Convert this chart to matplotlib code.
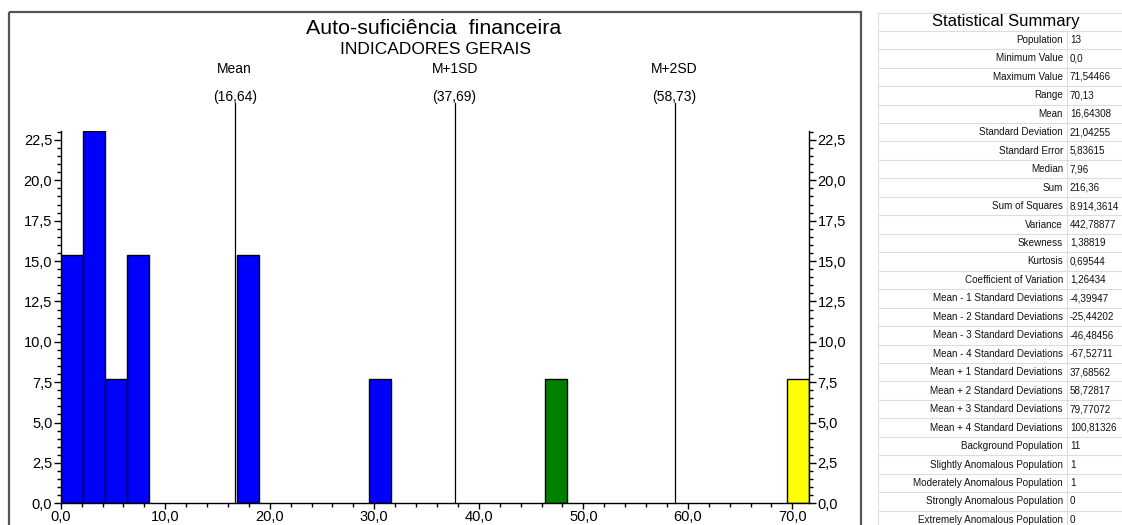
import matplotlib
matplotlib.use("Agg")
import matplotlib.pyplot as plt
from matplotlib.ticker import MultipleLocator, FuncFormatter
from matplotlib.patches import Rectangle

plt.rcParams['font.family'] = ['Liberation Sans', 'DejaVu Sans']

# histogram bins (percent of population), 34 bins over 0..71.54
bin_width = 71.54466 / 34
bin_left = [0.0, 2.104, 4.208, 6.313, 16.835, 29.457, 46.292, 69.440]
bin_pct = [15.38, 23.08, 7.69, 15.38, 15.38, 7.69, 7.69, 7.69]
bin_color = ['#0000ff', '#0000ff', '#0000ff', '#0000ff', '#0000ff', '#0000ff', '#008000', '#ffff00']

ref_names = ['Mean', 'M+1SD', 'M+2SD']
ref_values = [16.64308, 37.68562, 58.72817]

summary_labels = ['Population', 'Minimum Value', 'Maximum Value', 'Range', 'Mean',
                  'Standard Deviation', 'Standard Error', 'Median', 'Sum', 'Sum of Squares',
                  'Variance', 'Skewness', 'Kurtosis', 'Coefficient of Variation',
                  'Mean - 1 Standard Deviations', 'Mean - 2 Standard Deviations',
                  'Mean - 3 Standard Deviations', 'Mean - 4 Standard Deviations',
                  'Mean + 1 Standard Deviations', 'Mean + 2 Standard Deviations',
                  'Mean + 3 Standard Deviations', 'Mean + 4 Standard Deviations',
                  'Background Population', 'Slightly Anomalous Population',
                  'Moderately Anomalous Population', 'Strongly Anomalous Population',
                  'Extremely Anomalous Population']
summary_values = ['13', '0,0', '71,54466', '70,13', '16,64308', '21,04255', '5,83615', '7,96',
                  '216,36', '8.914,3614', '442,78877', '1,38819', '0,69544', '1,26434',
                  '-4,39947', '-25,44202', '-46,48456', '-67,52711', '37,68562', '58,72817',
                  '79,77072', '100,81326', '11', '1', '1', '0', '0']

W, H = 1122, 525
fig = plt.figure(figsize=(W / 100, H / 100), dpi=100)

# background layer in pixel coordinates (frame + summary table)
bg = fig.add_axes([0, 0, 1, 1])
bg.set_xlim(0, W)
bg.set_ylim(H, 0)
bg.axis('off')
bg.add_patch(Rectangle((9, 12), 852, 530, fill=False, edgecolor='#555555', linewidth=1.6))

row_top = 30.7
row_h = 18.46
tab_l, tab_div, tab_r = 878, 1067, 1140
grid_c = '#dddddd'
bg.plot([tab_l, tab_r], [12.7, 12.7], color=grid_c, lw=0.8)
bg.plot([tab_l, tab_l], [12.7, H], color=grid_c, lw=0.8)
bg.plot([tab_div, tab_div], [row_top, H], color=grid_c, lw=0.8)
bg.text(1006, 21.5, 'Statistical Summary', fontsize=12, ha='center', va='center')
for i, (lab, val) in enumerate(zip(summary_labels, summary_values)):
    y0 = row_top + i * row_h
    bg.plot([tab_l, tab_r], [y0, y0], color=grid_c, lw=0.8)
    bg.text(tab_div - 4, y0 + row_h / 2, lab, fontsize=7.1, ha='right', va='center', color='#111111')
    bg.text(tab_div + 3, y0 + row_h / 2, val, fontsize=7.1, ha='left', va='center', color='#111111')

# histogram axes
ax = fig.add_axes([60.7 / W, 21.7 / H, 748.6 / W, 372.7 / H])
ax.patch.set_alpha(0)
ax.bar(bin_left, bin_pct, width=bin_width, align='edge', color=bin_color,
       edgecolor='black', linewidth=1.0, zorder=2)
ax.set_xlim(0, 71.62)
ax.set_ylim(0, 23.08)

# reference lines with labels above the plot
for name, v in zip(ref_names, ref_values):
    ax.plot([v, v], [0, 24.8], color='black', lw=0.9, clip_on=False, zorder=3)
    ax.text(v, 26.9, name, fontsize=10, ha='center', va='center')
    ax.text(v, 25.15, '(' + f'{v:.2f}'.replace('.', ',') + ')', fontsize=10,
            ha='center', va='center')

fig.text(434 / W, 1 - 29 / H, 'Auto-suficiência  financeira', fontsize=15.4, ha='center', va='center')
fig.text(435 / W, 1 - 50 / H, 'INDICADORES GERAIS', fontsize=12.5, ha='center', va='center')

fmt = FuncFormatter(lambda v, p: f'{v:.1f}'.replace('.', ','))
ax.xaxis.set_major_locator(MultipleLocator(10))
ax.xaxis.set_minor_locator(MultipleLocator(2))
ax.yaxis.set_major_locator(MultipleLocator(2.5))
ax.yaxis.set_minor_locator(MultipleLocator(0.5))
ax.xaxis.set_major_formatter(fmt)
ax.yaxis.set_major_formatter(fmt)
ax.spines['top'].set_visible(False)
for s in ['left', 'right', 'bottom']:
    ax.spines[s].set_linewidth(1.0)
ax.tick_params(axis='y', which='both', left=True, right=True, labelleft=True, labelright=True,
               direction='out', labelsize=10.5, pad=1)
ax.tick_params(axis='y', which='major', length=5, width=1)
ax.tick_params(axis='y', which='minor', length=3, width=1)
ax.tick_params(axis='x', which='major', length=4, width=1, labelsize=10.5, pad=1)
ax.tick_params(axis='x', which='minor', length=3, width=1)

fig.savefig('out.png', dpi=100)
